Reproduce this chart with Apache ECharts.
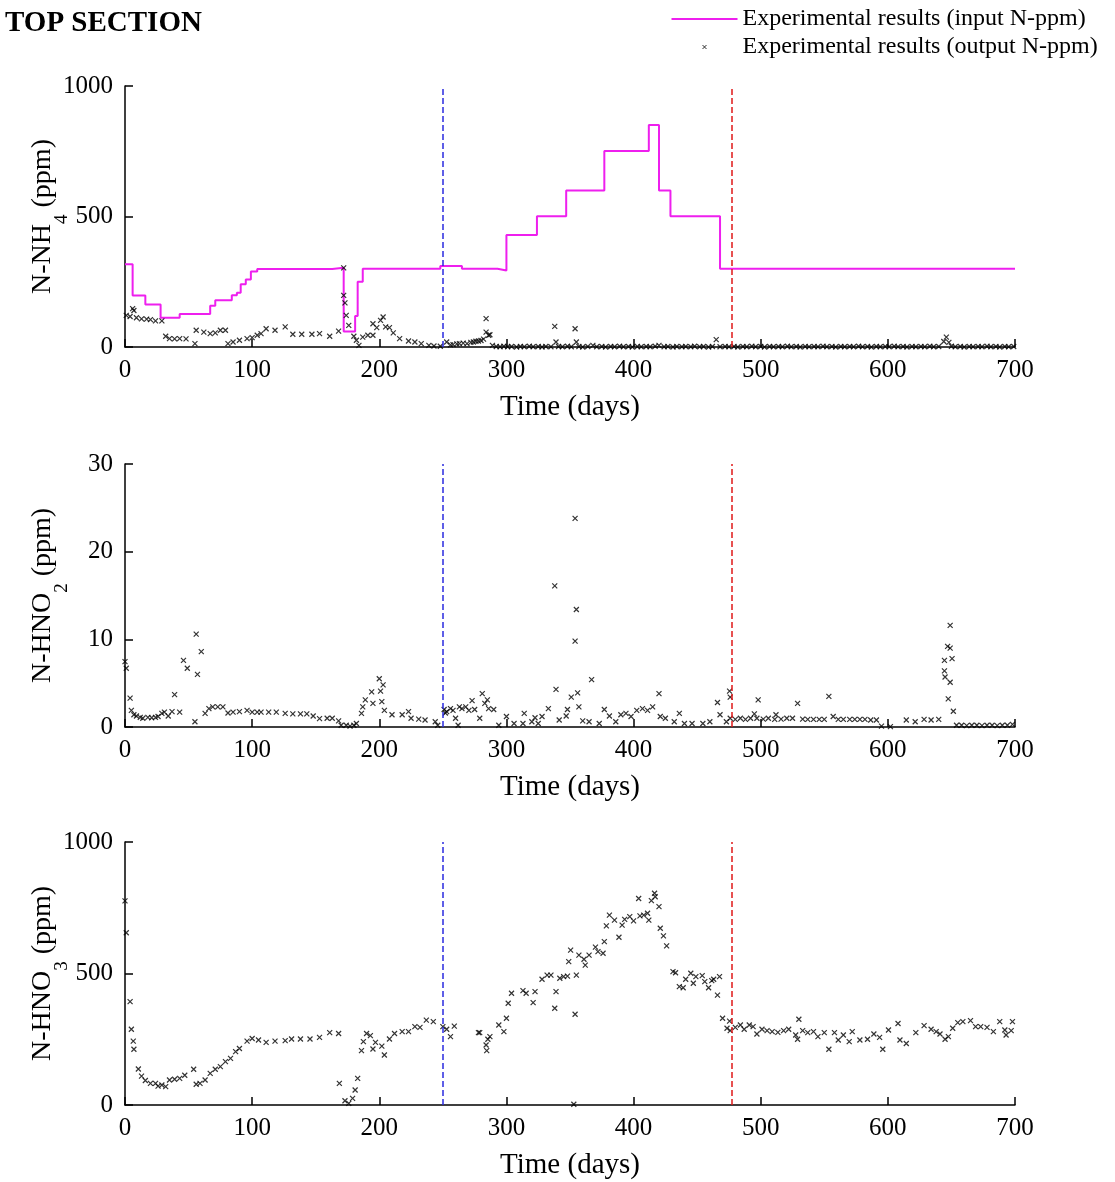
<!DOCTYPE html>
<html><head><meta charset="utf-8">
<script src="https://cdn.jsdelivr.net/npm/echarts@6/dist/echarts.min.js"></script>
<style>html,body{margin:0;padding:0;background:#fff}#c{width:1115px;height:1182px}</style>
</head><body><div id="c"></div>
<script>
// ---- data ----
const titleText = 'TOP SECTION';
const inputName = 'Experimental results (input N-ppm)';
const outputName = 'Experimental results (output N-ppm)';
const phaseDays = [250, 477];

// step input N-NH4: [day at which value starts, ppm]
const inputNH4 = [[0,317],[6,197],[16,163],[28,112],[43,126],[67,158],[71,179],[84,198],[88,208],[91,240],[95,259],[99,289],[104,299],[163,304],[172,59],[181,119],[183,250],[187,300],[248,310],[265,300],[293,293],[300,429],[324,501],[347,600],[377,751],[412,851],[420,600],[429,501],[468,300],[700,300]];

const outNH4 = [[1,121],[4,117],[6,147],[7,140],[9,112],[13,108],[17,107],[20,105],[24,100],[29,100],[32,41],[35,32],[39,31],[43,32],[48,31],[55,13],[56,64],[62,57],[67,51],[71,54],[75,64],[79,64],[81,13],[85,19],[90,26],[96,32],[100,36],[104,45],[107,51],[111,70],[118,64],[126,77],[132,49],[139,49],[147,49],[153,51],[161,41],[168,61],[172,303],[172,198],[173,169],[174,121],[176,83],[180,41],[182,26],[184,6],[187,38],[191,45],[195,45],[195,89],[198,74],[201,102],[203,115],[205,77],[208,74],[211,54],[216,32],[223,23],[228,19],[233,13],[239,6],[243,4],[248,3],[253,19],[256,8],[258,9],[261,12],[263,13],[266,15],[269,13],[272,18],[274,19],[276,22],[278,23],[280,25],[282,30],[284,57],[284,109],[286,45],[287,47],[289,6],
[292,2],[295,1],[298,3],[301,1],[304,2],[308,0],[311,2],[314,1],[318,3],[321,1],[325,2],[328,0],[331,2],[335,1],[338,79],[339,19],[341,2],[344,1],[348,3],[351,1],[354,70],[355,19],[357,2],[360,0],[364,2],[368,6],[371,1],[375,2],[378,0],[382,2],[385,1],[389,3],[392,1],[396,2],[399,0],[403,2],[406,1],[410,2],[413,1],[417,3],[420,6],[424,1],[427,2],[431,0],[434,2],[438,1],[441,2],[445,1],[448,3],[452,1],[455,2],[459,0],[462,2],[465,28],[468,1],[472,2],[475,1],[479,2],[482,0],[486,2],[489,1],[493,3],[496,1],[500,2],[503,0],[507,2],[510,1],[514,2],[517,1],[521,3],[524,1],[528,2],[531,0],[535,2],[538,1],[542,2],[545,1],[549,3],[552,1],[556,2],[559,0],[563,2],[566,1],[570,2],[573,1],[577,3],[580,1],[584,2],[587,0],[591,2],[594,1],[598,2],[601,1],[605,3],[608,1],[612,2],[615,0],[619,2],[622,1],[626,2],[629,1],[633,3],[636,1],[640,2],[644,21],[646,38],[648,18],[650,3],[653,1],[657,2],[660,0],[664,2],[667,1],[671,2],[674,1],[678,3],[681,1],[685,2],[688,0],[692,2],[695,1],[699,2]];

const outNO2 = [[0,7.45],[1,6.7],[4,3.3],[5,1.9],[7,1.4],[9,1.25],[12,1.1],[14,1.0],[18,1.1],[21,1.06],[24,1.1],[26,1.2],[29,1.56],[31,1.7],[34,1.25],[37,1.75],[39,3.7],[43,1.7],[46,7.6],[49,6.7],[55,0.6],[56,10.6],[57,6.0],[60,8.6],[63,1.56],[66,2.1],[69,2.3],[73,2.3],[77,2.3],[81,1.6],[85,1.7],[90,1.75],[96,1.9],[100,1.7],[104,1.7],[107,1.7],[113,1.7],[119,1.7],[126,1.56],[132,1.5],[138,1.5],[143,1.5],[148,1.25],[153,0.95],[159,1.0],[163,1.0],[168,0.7],[170,0.2],[174,0.2],[177,0.1],[180,0.2],[182,0.4],[186,1.56],[187,2.3],[189,3.1],[194,4.0],[195,2.7],[200,5.5],[201,4.1],[202,2.9],[203,4.8],[204,1.9],[210,1.4],[218,1.4],[223,1.75],[225,1.0],[231,0.9],[236,0.8],[244,0.6],[246,0.2],[251,2.0],[252,1.6],[253,1.75],[256,2.1],[258,1.9],[260,1.0],[262,0.2],[263,2.3],[265,2.1],[268,2.3],[270.5,1.9],[273,3.0],[275,2.0],[279,1.0],[281,3.8],[283,2.7],[285,3.1],[286,2.1],[290,2.0],[294,0.2],[300,1.2],[306,0.4],[313,0.4],[314,1.56],[320,0.6],[322.5,1.06],[325,0.4],[328,1.2],[333,2.1],[338,16.1],[339,4.3],[341.5,0.8],[347,1.25],[348,2.0],[351,3.4],[354,23.8],[355,13.4],[354,9.8],[356,3.9],[357,2.3],[360,0.7],[365,0.6],[367,5.4],[373,0.4],[377,2.0],[381,1.25],[386,0.6],[390,1.4],[394,1.56],[398,1.2],[402.5,1.9],[407,2.1],[411,1.9],[415,2.3],[420,3.8],[421,1.2],[425,1.0],[432,0.6],[436,1.56],[440,0.4],[446,0.4],[454.5,0.4],[460,0.6],[466,2.8],[468,1.4],[473,0.6],[475.5,4.1],[476,3.4],[476,1.0],[480,0.87],[484,1.0],[488,0.87],[492,1.0],[495,1.5],[497,1.0],[498,3.1],[502,0.9],[506,1.0],[511,0.87],[512,1.4],[516,0.9],[520.5,1.0],[525,1.0],[529,2.7],[533,0.9],[537,0.87],[541.5,0.87],[546,0.87],[550,0.87],[553.6,3.5],[557,1.2],[561,0.87],[565,0.87],[570,0.87],[574,0.87],[578,0.87],[582,0.87],[586.5,0.8],[591,0.8],[595,0.1],[602,0.05],[614.5,0.8],[621.5,0.6],[628.5,0.87],[634,0.8],[640,0.87],[644.5,7.6],[644.5,6.4],[645,5.7],[647,9.2],[647.5,3.2],[649,11.6],[649,9.0],[649,5.1],[650.5,7.8],[651.5,1.8],[654,0.2],[658,0.2],[662,0.15],[666,0.2],[670,0.2],[674,0.15],[678,0.2],[682,0.2],[686,0.15],[690,0.2],[694,0.2],[698,0.3]];

const outNO3 = [[0,776],[1,655],[4,393],[5,288],[6.5,243],[7,212],[10.5,137],[13,110],[16,93],[20,82],[24,82],[26,72],[29,76],[32,70],[35,95],[39,98],[43,101],[47,113],[54,136],[56,79],[59,82],[63,95],[67,120],[71,136],[75,146],[79,165],[83,177],[87,203],[90,215],[96,243],[100,253],[105,247],[111,238],[118,243],[126,245],[131,251],[138,251],[145.5,251],[153,257],[161,275],[168,272],[168.6,82],[173,16],[176,6],[179,25],[181,57],[183,101],[186,207],[187.5,241],[190,272],[193,264],[195,213],[197,238],[202,224],[204,190],[208,251],[212,272],[218,279],[223,279],[228,298],[232,295],[237,323],[242.5,317],[250,298],[253,288],[256,260],[259,300],[278,275],[279,275],[284,228],[284.5,207],[285.4,250],[287,260],[294,304],[298,279],[300,330],[301.4,387],[304,425],[313,435],[315.5,425],[321,389],[322.5,431],[328,478],[332,494],[335,494],[338,368],[339,431],[342,482],[345,488],[348,490],[349,545],[350.5,589],[353,3],[354,345],[355,494],[357,570],[361,554],[362,532],[365,570],[370,600],[372,583],[376,577],[377,621],[378.6,681],[381,722],[385,703],[388.5,638],[391,684],[393,706],[397,716],[400,700],[404,785],[405,719],[408,722],[411,729],[412,703],[414,777],[416.5,805],[417,792],[420,754],[421,672],[423.5,643],[426,605],[431,507],[433,503],[436,450],[439,446],[441,478],[445,501],[447,463],[449,488],[454,492],[456,469],[459,446],[461.5,473],[463,478],[466,418],[467.6,488],[470,330],[473.5,292],[475.5,319],[476,283],[480,295],[484,304],[487,288],[491,304],[494,298],[497,270],[501,288],[505,283],[509,279],[513.5,276],[518,283],[522,288],[527.5,266],[529,250],[530,326],[533,283],[537,275],[541.5,279],[545,260],[550,275],[553.6,212],[558,275],[561,247],[565,266],[569.6,241],[572,279],[578,247],[584,250],[589,270],[593.5,257],[596,212],[600.5,285],[608,310],[609.5,247],[614.5,234],[622,275],[628.5,302],[634,288],[638,279],[641,270],[645,250],[647.6,260],[651,292],[655,313],[659,317],[665,321],[669,298],[673,298],[678,295],[683,279],[688,317],[692,285],[693,266],[697,283],[698,317]];

const panels = [
  {label: ['N-NH', '4'], max: 1000, interval: 500, top: 86, height: 261, out: outNH4},
  {label: ['N-HNO', '2'], max: 30, interval: 10, top: 464, height: 263, out: outNO2},
  {label: ['N-HNO', '3'], max: 1000, interval: 500, top: 842, height: 263, out: outNO3}
];

// ---- chart ----
const FONT = 'Liberation Serif';
const chart = echarts.init(document.getElementById('c'), null, {renderer: 'canvas'});
const xSym = 'path://M0,0L10,10M10,0L0,10';
const legendLine = 'path://M0,0L66,0L66,2L0,2Z';
const legendX = 'path://M0,0L4,4M4,0L0,4M-31,-5L-31,-5M35,9L35,9';

const grids = [], xAxes = [], yAxes = [], series = [];
panels.forEach((p, i) => {
  grids.push({left: 125, width: 890, top: p.top, height: p.height});
  xAxes.push({
    type: 'value', gridIndex: i, min: 0, max: 700, interval: 100,
    name: 'Time (days)', nameLocation: 'middle', nameGap: 46, nameMoveOverlap: false,
    nameTextStyle: {fontFamily: FONT, fontSize: 29, color: '#000'},
    axisLine: {lineStyle: {color: '#000', width: 1.5}},
    axisTick: {inside: true, length: 8, lineStyle: {color: '#000', width: 1.5}},
    axisLabel: {fontFamily: FONT, fontSize: 25, color: '#000', margin: 11, formatter: v => String(v)},
    splitLine: {show: false}
  });
  yAxes.push({
    type: 'value', gridIndex: i, min: 0, max: p.max, interval: p.interval,
    name: '{a|' + p.label[0] + '}{s|' + p.label[1] + '}{a| (ppm)}',
    nameLocation: 'middle', nameGap: 68, nameRotate: 90, nameMoveOverlap: false,
    nameTextStyle: {fontFamily: FONT, color: '#000',
      rich: {a: {fontFamily: FONT, fontSize: 28, color: '#000'},
             s: {fontFamily: FONT, fontSize: 19, color: '#000', verticalAlign: 'bottom', padding: [0,0,-15,0]}}},
    axisLine: {lineStyle: {color: '#000', width: 1.5}},
    axisTick: {inside: true, length: 8, lineStyle: {color: '#000', width: 1.5}},
    axisLabel: {fontFamily: FONT, fontSize: 25, color: '#000', margin: 12, formatter: v => String(v)},
    splitLine: {show: false}
  });
  if (i === 0) {
    series.push({
      name: inputName, type: 'line', xAxisIndex: 0, yAxisIndex: 0,
      data: inputNH4, step: 'end', symbol: 'none',
      lineStyle: {color: '#ee1fee', width: 2}, itemStyle: {color: '#ee1fee'}, z: 3
    });
  }
  series.push({
    name: outputName, type: 'scatter', xAxisIndex: i, yAxisIndex: i,
    data: p.out, symbol: xSym, symbolSize: 5,
    itemStyle: {color: 'rgba(0,0,0,0)', borderColor: '#000', borderWidth: 1.2},
    z: 4,
    markLine: {
      silent: true, symbol: 'none', label: {show: false}, animation: false,
      data: [
        {xAxis: phaseDays[0], lineStyle: {color: '#2a2ae0', type: [6, 3], width: 1.5}},
        {xAxis: phaseDays[1], lineStyle: {color: '#e01818', type: [6, 3], width: 1.5}}
      ]
    }
  });
});

chart.setOption({
  animation: false,
  backgroundColor: '#fff',
  title: {text: titleText, left: 0, top: 4,
    textStyle: {fontFamily: FONT, fontSize: 29, fontWeight: 'bold', color: '#000'}},
  legend: {
    orient: 'vertical', left: 671, top: 7, itemGap: 4, itemWidth: 66, itemHeight: 14,
    padding: 0,
    textStyle: {fontFamily: FONT, fontSize: 24, color: '#000', padding: [0,0,0,0]},
    data: [
      {name: inputName, icon: legendLine, itemStyle: {color: '#ee1fee'}},
      {name: outputName, icon: legendX, itemStyle: {color: 'rgba(0,0,0,0)', borderColor: '#000', borderWidth: 1}}
    ]
  },
  grid: grids, xAxis: xAxes, yAxis: yAxes, series: series
});
</script></body></html>
